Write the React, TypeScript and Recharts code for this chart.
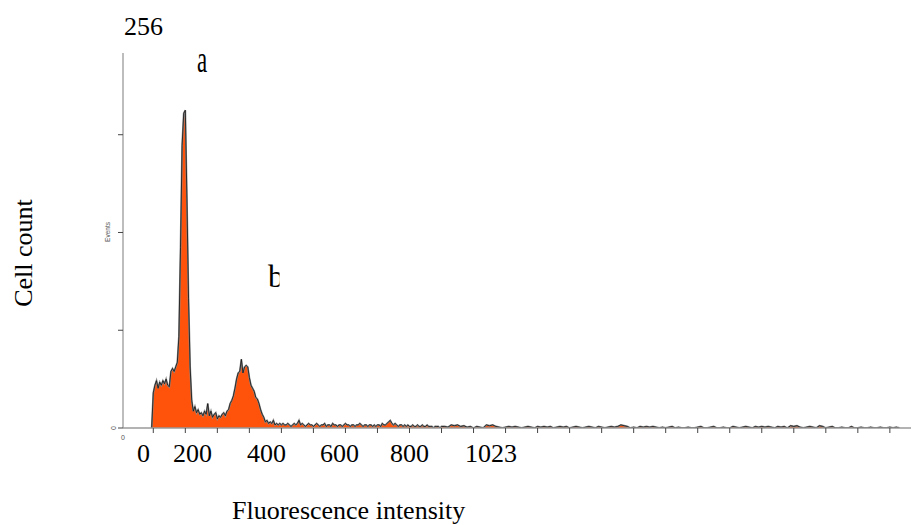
import React from 'react';
import { ComposedChart, Area, Line, XAxis, YAxis } from 'recharts';

// histogram channel units (x) and cell counts (y, 0..256 scale)
const mainStart = 9.5;
const mainStep = 0.5;
const mainCounts = [
  0,
  23, 28, 31, 26, 30, 28, 31, 29, 32, 28,
  27, 37, 39, 37, 40, 43, 60, 118, 185, 206,
  208, 150, 85, 40, 18, 11, 14, 10, 12, 9,
  10, 8, 11, 9, 16, 8, 11, 7, 9, 10,
  6, 8, 7, 9, 10, 8, 11, 12, 16, 18,
  21, 26, 32, 36, 37, 45, 36, 40, 41, 40,
  33, 28, 26, 24, 20, 19, 16, 12, 9, 7,
  4, 5, 3, 4, 3, 5, 2, 3, 2, 3,
  2, 3, 2, 2, 3, 2, 1, 2, 3, 2,
  3, 5, 2, 3, 2, 1, 2, 3, 2, 2,
  1, 2, 3, 2, 1, 2, 2, 3, 1, 2,
  2, 1, 3, 2, 2, 1, 2, 2, 1, 2,
  3, 2, 2, 1, 2, 2, 1, 2, 2, 3,
  2, 1, 2, 2, 1, 2, 2, 1, 2, 1,
  2, 2, 1, 3, 2, 2, 3, 4, 5, 3,
  2, 3, 2, 1, 2, 2, 1, 2, 1, 2,
  1, 1, 2, 1, 1, 2, 1, 1, 2, 1,
  1, 2, 1, 1, 1, 0, 1, 1, 1, 0,
  1,
];

const tailStart = 101;
const tailStep = 1;
const tailCounts = [
  1, 0.5, 2, 1.5, 2, 1, 1.5, 0.5, 1, 0,
  1, 0.5, 0, 2, 1.5, 2, 1, 0.5, 0, 0.5,
  1, 0.5, 1, 0.5, 0, 0.5, 1, 0.5, 0, 1,
  0.5, 1, 0.5, 1, 0, 0.5, 1, 0.5, 1, 0,
  0.5, 1, 0.5, 0, 0.5, 1, 0.5, 0, 1, 0.5,
  0, 0.5, 1, 0.5, 1, 2, 1.5, 1, 0, 0.5,
  0, 1, 0.5, 1, 0.5, 1, 0.5, 0, 0.5, 0,
  0.5, 1, 0, 0.5, 0, 0, 0.5, 0, 0, 0.5,
  1, 0, 0, 0.5, 1, 0, 0, 0.5, 0, 0,
  1, 0.5, 0, 0.5, 1, 0.5, 0, 1, 0.5, 1,
  0.5, 1, 0.5, 0, 1, 0.5, 1, 0, 1.5, 1,
  1.5, 0.5, 0, 0.5, 1, 0.5, 0, 1.5, 1, 0,
  0.5, 1, 0, 0, 0.5, 0, 0, 1, 0, 0,
  0.5, 0, 0, 0.5, 0, 0, 0.5, 0, 0, 0.5,
  0, 0.5, 0,
];

const xTicks = [10, 20, 30, 40, 50, 60, 70, 80, 90, 100, 110, 120, 130, 140, 150, 160, 170, 180, 190, 200, 210, 220, 230, 240];
const yTicks = [0, 64, 128, 192];
const bottomLabels = ['0', '200', '400', '600', '800', '1023'];
const topLabel = '256';
const peakLabels = ['a', 'b'];
const yTitle = 'Cell count';
const xTitle = 'Fluorescence intensity';
const innerYTitle = 'Events';

const data = [
  ...mainCounts.map((c, i) => ({ u: mainStart + i * mainStep, c })),
  ...tailCounts.map((c, i) => ({ u: tailStart + i * tailStep, c })),
];

const serif = "'Liberation Serif', 'Times New Roman', serif";
const sans = "'Liberation Sans', Arial, sans-serif";

const EmptyTick = () => <g />;

export default function App() {
  return (
    <div style={{ position: 'absolute', left: 0, top: 0, width: 912, height: 525, background: '#fff', overflow: 'hidden' }}>
      <div style={{ position: 'absolute', left: 0, top: 0 }}>
        <ComposedChart
          width={912}
          height={525}
          data={data}
          margin={{ top: 53, right: 1, bottom: 67, left: 93 }}
        >
          <XAxis
            dataKey="u"
            type="number"
            domain={[0.54, 246.6]}
            allowDataOverflow
            ticks={xTicks}
            tick={EmptyTick}
            tickSize={5}
            height={30}
            axisLine={{ stroke: '#9a9a9a', strokeWidth: 1.3 }}
            tickLine={{ stroke: '#444', strokeWidth: 1 }}
          />
          <YAxis
            type="number"
            domain={[0, 245.5]}
            allowDataOverflow
            ticks={yTicks}
            tick={EmptyTick}
            tickSize={5}
            width={30}
            axisLine={{ stroke: '#9a9a9a', strokeWidth: 1.3 }}
            tickLine={{ stroke: '#444', strokeWidth: 1 }}
          />
          <Area
            type="linear"
            dataKey="c"
            fill="#FF520A"
            fillOpacity={1}
            stroke="#8c8c8c"
            strokeWidth={1.8}
            isAnimationActive={false}
            dot={false}
            activeDot={false}
          />
          <Line
            type="linear"
            dataKey="c"
            stroke="#111"
            strokeWidth={0.8}
            isAnimationActive={false}
            dot={false}
            activeDot={false}
          />
        </ComposedChart>
      </div>
      <svg
        width={912}
        height={525}
        style={{ position: 'absolute', left: 0, top: 0, pointerEvents: 'none' }}
      >
        <defs>
          <clipPath id="clipB">
            <rect x={260} y={250} width={19.5} height={50} />
          </clipPath>
        </defs>
        <text x={124} y={35} fontFamily={serif} fontSize={26} fill="#000">{topLabel}</text>
        <text transform="translate(197,72) scale(0.62,1)" fontFamily={serif} fontSize={37} fill="#000">{peakLabels[0]}</text>
        <g clipPath="url(#clipB)">
          <text x={268} y={287} fontFamily={serif} fontSize={32} fill="#000">{peakLabels[1]}</text>
        </g>
        <text x={137} y={462} fontFamily={serif} fontSize={26} fill="#000">{bottomLabels[0]}</text>
        <text x={173} y={462} fontFamily={serif} fontSize={26} fill="#000">{bottomLabels[1]}</text>
        <text x={247} y={462} fontFamily={serif} fontSize={26} fill="#000">{bottomLabels[2]}</text>
        <text x={320} y={462} fontFamily={serif} fontSize={26} fill="#000">{bottomLabels[3]}</text>
        <text x={390} y={462} fontFamily={serif} fontSize={26} fill="#000">{bottomLabels[4]}</text>
        <text x={465} y={462} fontFamily={serif} fontSize={26} fill="#000">{bottomLabels[5]}</text>
        <text transform="translate(32,253) rotate(-90)" textAnchor="middle" fontFamily={serif} fontSize={26} fill="#000">{yTitle}</text>
        <text x={232} y={519} fontFamily={serif} fontSize={26} fill="#000">{xTitle}</text>
        <text transform="translate(110,232) rotate(-90)" textAnchor="middle" fontFamily={sans} fontSize={6.5} fill="#555">{innerYTitle}</text>
        <text transform="translate(116,428) rotate(-90)" textAnchor="middle" fontFamily={sans} fontSize={7} fill="#555">0</text>
        <text x={123} y={440} textAnchor="middle" fontFamily={sans} fontSize={7} fill="#555">0</text>
      </svg>
    </div>
  );
}
